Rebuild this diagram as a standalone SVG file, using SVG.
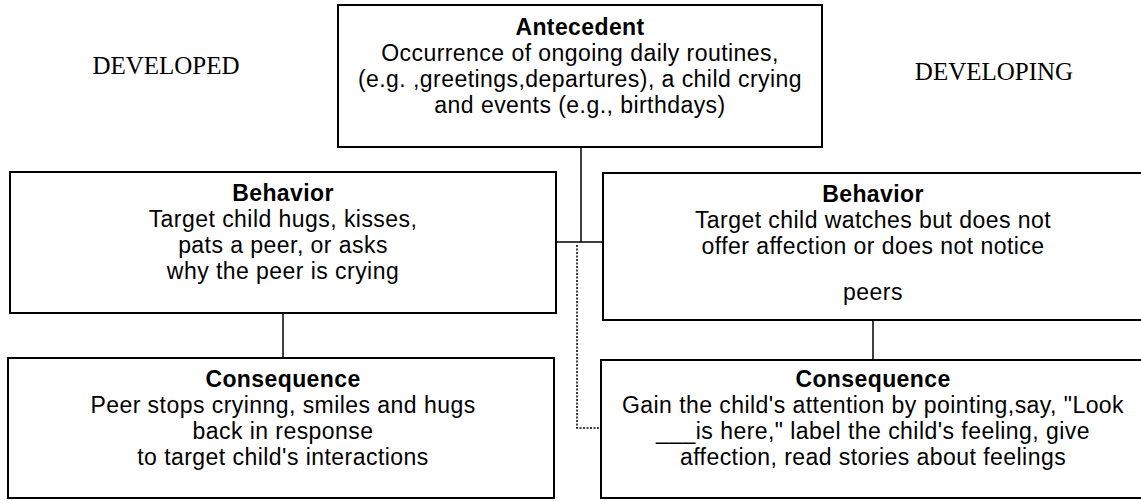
<svg xmlns="http://www.w3.org/2000/svg" width="1141" height="501" viewBox="0 0 1141 501">
<style>
.box{fill:#fff;stroke:#000;stroke-width:2}
.t{font-family:"Liberation Sans",Arial,sans-serif;font-size:23px;letter-spacing:0.45px;text-anchor:middle;fill:#000}
.b{font-weight:bold;letter-spacing:0.4px}
.side{font-family:"Liberation Serif","Times New Roman",serif;font-size:25px;text-anchor:middle;fill:#000}
.ln{stroke:#000;stroke-width:1.5;fill:none}
.dot{stroke:#000;stroke-width:1.5;fill:none;stroke-dasharray:2 1.5}
</style>
<rect width="1141" height="501" fill="#fff"/>
<g id="connectors">
<path class="ln" d="M581 147 V242 M557 242 H603"/>
<path class="dot" d="M577 245 V428 H601"/>
<path class="ln" d="M283 313 V358"/>
<path class="ln" d="M873 320 V360"/>
</g>
<g id="label-developed"><text class="side" x="166" y="74">DEVELOPED</text></g>
<g id="label-developing"><text class="side" x="994" y="80">DEVELOPING</text></g>
<g id="antecedent">
<rect class="box" x="338" y="5" width="484" height="142"/>
<text class="t b" x="580" y="35">Antecedent</text>
<text class="t" x="580" y="61">Occurrence of ongoing daily routines,</text>
<text class="t" x="580" y="87">(e.g. ,greetings,departures), a child crying</text>
<text class="t" x="580" y="113">and events (e.g., birthdays)</text>
</g>
<g id="behavior-developed">
<rect class="box" x="10" y="172" width="546" height="141"/>
<text class="t b" x="283" y="201">Behavior</text>
<text class="t" x="283" y="227">Target child hugs, kisses,</text>
<text class="t" x="283" y="253">pats a peer, or asks</text>
<text class="t" x="283" y="279">why the peer is crying</text>
</g>
<g id="behavior-developing">
<rect class="box" x="603" y="173" width="545" height="147"/>
<text class="t b" x="873" y="202">Behavior</text>
<text class="t" x="873" y="228">Target child watches but does not</text>
<text class="t" x="873" y="254">offer affection or does not notice</text>
<text class="t" x="873" y="300">peers</text>
</g>
<g id="consequence-developed">
<rect class="box" x="8" y="358" width="546" height="140"/>
<text class="t b" x="283" y="387">Consequence</text>
<text class="t" x="283" y="413">Peer stops cryinng, smiles and hugs</text>
<text class="t" x="283" y="439">back in response</text>
<text class="t" x="283" y="465">to target child's interactions</text>
</g>
<g id="consequence-developing">
<rect class="box" x="601" y="360" width="547" height="138"/>
<text class="t b" x="873" y="387">Consequence</text>
<text class="t" x="873" y="413">Gain the child's attention by pointing,say, "Look</text>
<text class="t" x="873" y="439">___is here," label the child's feeling, give</text>
<text class="t" x="873" y="465">affection, read stories about feelings</text>
</g>
</svg>
